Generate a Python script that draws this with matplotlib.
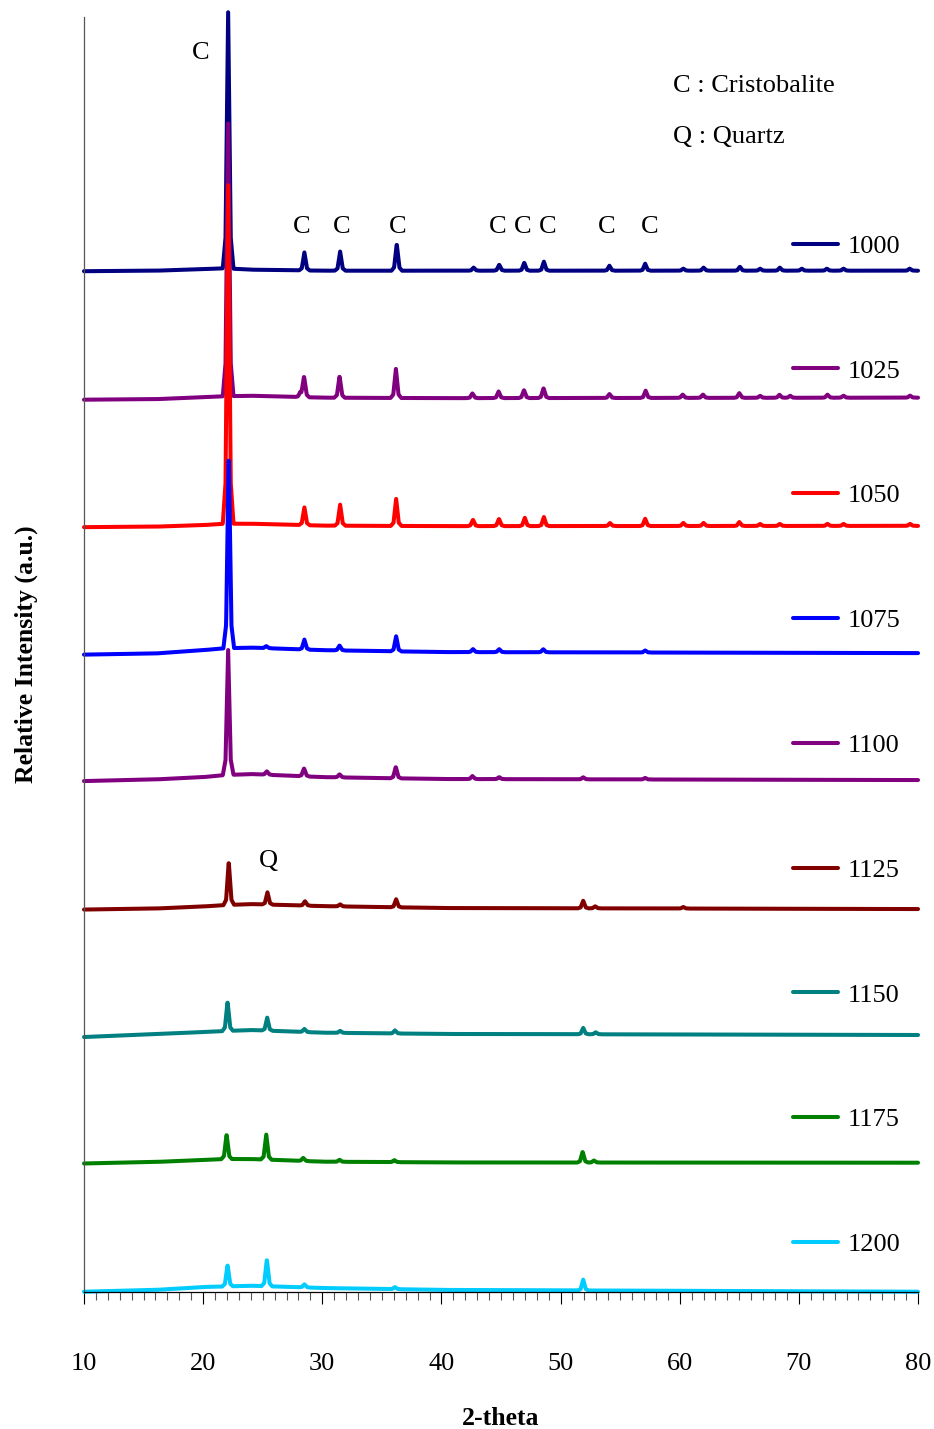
import numpy as np
import matplotlib
matplotlib.use("Agg")
import matplotlib.pyplot as plt
from matplotlib.ticker import MultipleLocator

plt.rcParams['font.family'] = ['Liberation Serif', 'DejaVu Serif']

# sintering temperatures, stacked from top to bottom
temps = ["1000", "1025", "1050", "1075", "1100", "1125", "1150", "1175", "1200"]
colors = ["#000080", "#800080", "#FF0000", "#0000FF", "#800080",
          "#800000", "#008080", "#008000", "#00CCFF"]
offsets = [8000, 7000, 6000, 5000, 4000, 3000, 2000, 1000, 0]

# background knots (2-theta) and background level above each offset (a.u.)
bg_x = [10, 16, 20, 21.8, 24, 30, 40, 80]
bg_1000 = [8, 12, 24, 31, 20, 12, 12, 12]
bg_1025 = [0, 4, 20, 27, 31, 16, 12, 16]
bg_1050 = [0, 4, 16, 27, 27, 12, 8, 10]
bg_1075 = [0, 9, 35, 50, 55, 35, 20, 12]
bg_1100 = [8, 21, 39, 55, 63, 39, 24, 16]
bg_1125 = [0, 8, 24, 35, 43, 27, 12, 4]
bg_1150 = [0, 24, 39, 47, 55, 34, 24, 16]
bg_1175 = [8, 20, 35, 43, 43, 22, 16, 14]
bg_1200 = [2, 16, 39, 43, 49, 31, 16, 2]

# peak positions (2-theta) and heights above background (a.u.)
pos_1000 = [22.1, 28.5, 31.5, 36.25, 42.7, 44.85, 46.95, 48.6, 54.1, 57.1,
            60.3, 62.0, 65.05, 66.75, 68.4, 70.25, 72.35, 73.75, 79.3]
h_1000 = [2010, 141, 150, 210, 24, 47, 63, 71, 39, 55,
          16, 24, 31, 16, 24, 16, 16, 16, 16]
pos_1025 = [22.1, 28.15, 28.47, 31.45, 36.18, 42.6, 44.8, 46.93, 48.57, 54.1,
            57.14, 60.25, 61.95, 65.0, 66.75, 68.37, 69.27, 72.4, 73.75, 79.33]
h_1025 = [2140, 30, 162, 170, 228, 37, 52, 63, 78, 31,
          57, 26, 26, 37, 16, 24, 16, 24, 16, 16]
pos_1050 = [22.1, 28.5, 31.5, 36.2, 42.65, 44.83, 47.0, 48.6, 54.15, 57.1,
            60.3, 62.0, 65.0, 66.75, 68.4, 72.4, 73.75, 79.33]
h_1050 = [2655, 139, 165, 212, 50, 57, 65, 71, 24, 57,
          24, 24, 31, 16, 16, 16, 16, 16]
pos_1075 = [22.15, 25.3, 28.5, 31.45, 36.2, 42.65, 44.85, 48.55, 57.1]
h_1075 = [1530, 16, 78, 39, 118, 24, 24, 24, 16]
pos_1100 = [22.1, 25.35, 28.47, 31.45, 36.17, 42.6, 44.85, 51.9, 57.1]
h_1100 = [980, 27, 63, 24, 90, 24, 16, 16, 12]
pos_1125 = [22.15, 25.4, 28.55, 31.5, 36.2, 51.9, 52.9, 60.3]
h_1125 = [340, 96, 35, 16, 63, 59, 16, 12]
pos_1150 = [22.05, 25.38, 28.5, 31.5, 36.1, 51.9, 52.95]
h_1150 = [230, 102, 24, 16, 24, 50, 16]
pos_1175 = [21.97, 25.3, 28.4, 31.45, 36.05, 51.85, 52.8]
h_1175 = [194, 196, 24, 16, 16, 85, 16]
pos_1200 = [22.05, 25.35, 28.5, 36.1, 51.9]
h_1200 = [169, 211, 24, 16, 85]

backgrounds = [bg_1000, bg_1025, bg_1050, bg_1075, bg_1100,
               bg_1125, bg_1150, bg_1175, bg_1200]
positions = [pos_1000, pos_1025, pos_1050, pos_1075, pos_1100,
             pos_1125, pos_1150, pos_1175, pos_1200]
heights = [h_1000, h_1025, h_1050, h_1075, h_1100,
           h_1125, h_1150, h_1175, h_1200]

# phase labels: (text, 2-theta, intensity)
labels_c = [("C", 19.8, 9717), ("C", 28.3, 8352), ("C", 31.6, 8352),
            ("C", 36.35, 8352), ("C", 44.75, 8352), ("C", 46.85, 8352),
            ("C", 48.95, 8352), ("C", 53.9, 8352), ("C", 57.5, 8352),
            ("Q", 25.5, 3380)]

# peak profile used to draw each reflection
prof_dx = [-0.45, -0.22, -0.09, 0, 0.09, 0.22, 0.45]
prof_f = [0, 0.12, 0.65, 1, 0.65, 0.12, 0]

fig = plt.figure(figsize=(9.34, 14.29), dpi=100)
ax = fig.add_axes([0.0899, 0.0959, 0.893, 0.892])

x = np.arange(10, 80.001, 0.02)
for name, col, off, bg, ps, hs in zip(temps, colors, offsets, backgrounds, positions, heights):
    y = off + np.interp(x, bg_x, bg)
    for p, h in zip(ps, hs):
        y = y + h * np.interp(x, p + np.array(prof_dx), prof_f, left=0, right=0)
    ax.plot(x, y, color=col, lw=2.9, label=name, clip_on=False, solid_capstyle='round')

for txt, tx, ty in labels_c:
    ax.text(tx, ty, txt, fontsize=19, ha='center', va='center')
ax.text(59.4, 9458, "C : Cristobalite", fontsize=19, ha='left', va='center')
ax.text(59.4, 9058, "Q : Quartz", fontsize=19, ha='left', va='center')

ax.set_xlim(10, 80)
ax.set_ylim(0, 10000)
ax.xaxis.set_major_locator(MultipleLocator(10))
ax.xaxis.set_minor_locator(MultipleLocator(1))
ax.tick_params(axis='x', which='major', direction='out', length=8.6, width=0.8,
               labelsize=19, pad=35.5)
ax.tick_params(axis='x', which='minor', direction='out', length=5.8, width=0.8,
               color='#555555')
ax.set_yticks([])
for s in ['top', 'right']:
    ax.spines[s].set_visible(False)
ax.spines['left'].set_color('#555555')
ax.spines['left'].set_linewidth(0.9)
ax.spines['bottom'].set_linewidth(0.9)

ax.set_xlabel("2-theta", fontsize=18.5, fontweight='bold', labelpad=23)
ax.set_ylabel("Relative Intensity (a.u.)", fontsize=18.5, fontweight='bold', labelpad=33)

ax.legend(loc='upper left', bbox_to_anchor=(0.850, 0.8297), frameon=False,
          fontsize=19, handlelength=1.7, handletextpad=0.38, labelspacing=3.84,
          borderpad=0, borderaxespad=0)

fig.savefig("out.png", dpi=100)
